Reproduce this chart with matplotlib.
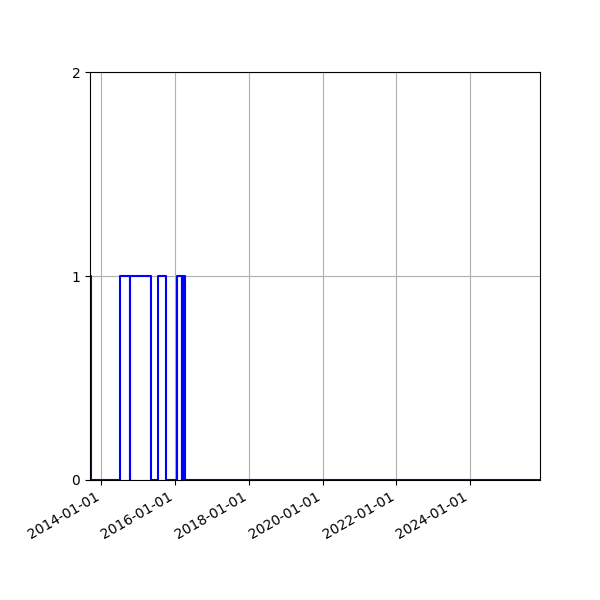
import matplotlib
matplotlib.use("Agg")
import matplotlib.pyplot as plt
import matplotlib.dates as mdates
import pandas as pd

# change points of the 0/1 state (step, held until next date)
dates = [
    "2013-09-10", "2013-09-16", "2014-07-04", "2014-10-11", "2014-10-15",
    "2015-05-08", "2015-07-16", "2015-10-03", "2016-01-24", "2016-03-09",
    "2016-03-12", "2016-03-30", "2016-04-02", "2016-04-12", "2025-11-24",
]
values = [1, 0, 1, 0, 1, 0, 1, 0, 1, 0, 1, 0, 1, 0, 0]

x = pd.to_datetime(dates)

fig, ax = plt.subplots(figsize=(6, 6), dpi=100)
ax.step(x, values, where="post", color="blue")
ax.set_xlim(x.min(), x.max())
ax.set_ylim(0, 2)
ax.set_yticks([0, 1, 2])
ax.xaxis.set_major_locator(mdates.YearLocator(2))
ax.xaxis.set_major_formatter(mdates.DateFormatter("%Y-%m-%d"))
ax.grid(True)
fig.autofmt_xdate()
fig.subplots_adjust(left=0.15, right=0.9, top=0.88, bottom=0.2)
fig.savefig("out.png", dpi=100)
